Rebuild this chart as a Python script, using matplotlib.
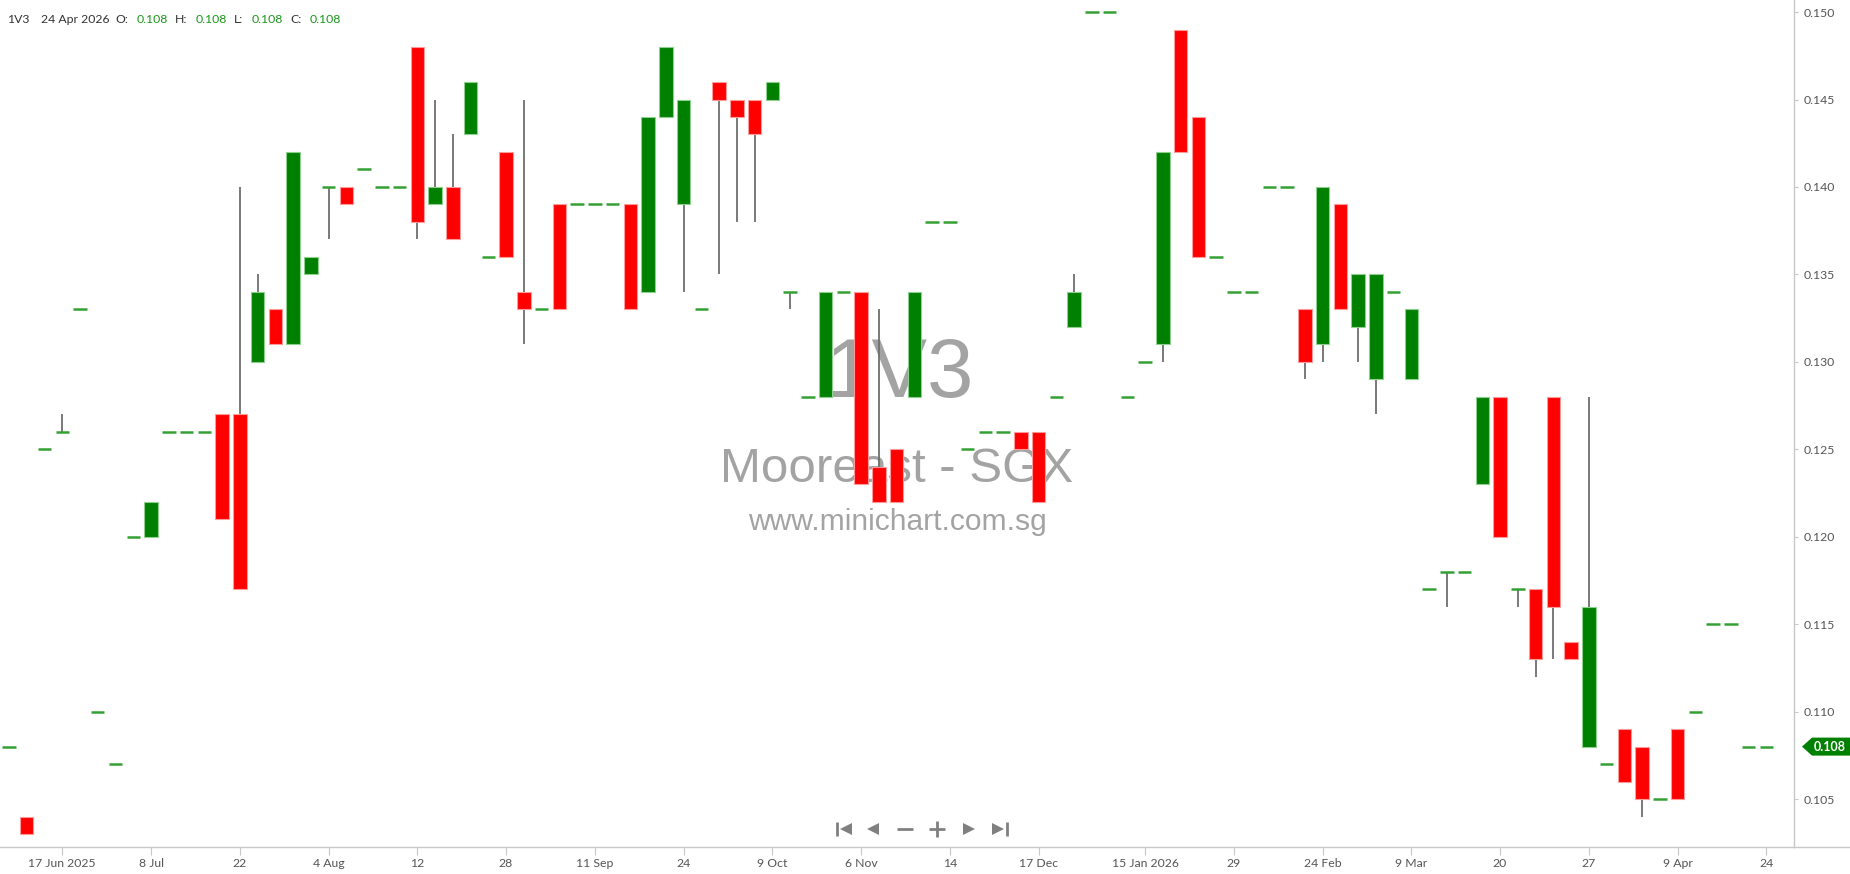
import matplotlib.pyplot as plt
from matplotlib.patches import Polygon
from matplotlib.transforms import IdentityTransform
import numpy as np

# daily OHLC for 1V3 (only days with trades)
opens = [0.108, 0.104, 0.125, 0.126, 0.133, 0.110, 0.107, 0.120, 0.120, 0.126,
         0.126, 0.126, 0.127, 0.127, 0.130, 0.133, 0.131, 0.135, 0.140, 0.140,
         0.141, 0.140, 0.140, 0.148, 0.139, 0.140, 0.143, 0.136, 0.142, 0.134,
         0.133, 0.139, 0.139, 0.139, 0.139, 0.139, 0.134, 0.144, 0.139, 0.133,
         0.146, 0.145, 0.145, 0.145, 0.134, 0.128, 0.128, 0.134, 0.134, 0.124,
         0.125, 0.128, 0.138, 0.138, 0.125, 0.126, 0.126, 0.126, 0.126, 0.128,
         0.132, 0.150, 0.150, 0.128, 0.130, 0.131, 0.149, 0.144, 0.136, 0.134,
         0.134, 0.140, 0.140, 0.133, 0.131, 0.139, 0.132, 0.129, 0.134, 0.129,
         0.117, 0.118, 0.118, 0.123, 0.128, 0.117, 0.117, 0.128, 0.114, 0.108,
         0.107, 0.109, 0.108, 0.105, 0.109, 0.110, 0.115, 0.115, 0.108, 0.108]
highs = [0.108, 0.104, 0.125, 0.127, 0.133, 0.110, 0.107, 0.120, 0.122, 0.126,
         0.126, 0.126, 0.127, 0.140, 0.135, 0.133, 0.142, 0.136, 0.140, 0.140,
         0.141, 0.140, 0.140, 0.148, 0.145, 0.143, 0.146, 0.136, 0.142, 0.145,
         0.133, 0.139, 0.139, 0.139, 0.139, 0.139, 0.144, 0.148, 0.145, 0.133,
         0.146, 0.145, 0.145, 0.146, 0.134, 0.128, 0.134, 0.134, 0.134, 0.133,
         0.125, 0.134, 0.138, 0.138, 0.125, 0.126, 0.126, 0.126, 0.126, 0.128,
         0.135, 0.150, 0.150, 0.128, 0.130, 0.142, 0.149, 0.144, 0.136, 0.134,
         0.134, 0.140, 0.140, 0.133, 0.140, 0.139, 0.135, 0.135, 0.134, 0.133,
         0.117, 0.118, 0.118, 0.128, 0.128, 0.117, 0.117, 0.128, 0.114, 0.128,
         0.107, 0.109, 0.108, 0.105, 0.109, 0.110, 0.115, 0.115, 0.108, 0.108]
lows = [0.108, 0.103, 0.125, 0.126, 0.133, 0.110, 0.107, 0.120, 0.120, 0.126,
        0.126, 0.126, 0.121, 0.117, 0.130, 0.131, 0.131, 0.135, 0.137, 0.139,
        0.141, 0.140, 0.140, 0.137, 0.139, 0.137, 0.143, 0.136, 0.136, 0.131,
        0.133, 0.133, 0.139, 0.139, 0.139, 0.133, 0.134, 0.144, 0.134, 0.133,
        0.135, 0.138, 0.138, 0.145, 0.133, 0.128, 0.128, 0.134, 0.123, 0.122,
        0.122, 0.128, 0.138, 0.138, 0.125, 0.126, 0.126, 0.125, 0.122, 0.128,
        0.132, 0.150, 0.150, 0.128, 0.130, 0.130, 0.142, 0.136, 0.136, 0.134,
        0.134, 0.140, 0.140, 0.129, 0.130, 0.133, 0.130, 0.127, 0.134, 0.129,
        0.117, 0.116, 0.118, 0.123, 0.120, 0.116, 0.112, 0.113, 0.113, 0.108,
        0.107, 0.106, 0.104, 0.105, 0.105, 0.110, 0.115, 0.115, 0.108, 0.108]
closes = [0.108, 0.103, 0.125, 0.126, 0.133, 0.110, 0.107, 0.120, 0.122, 0.126,
          0.126, 0.126, 0.121, 0.117, 0.134, 0.131, 0.142, 0.136, 0.140, 0.139,
          0.141, 0.140, 0.140, 0.138, 0.140, 0.137, 0.146, 0.136, 0.136, 0.133,
          0.133, 0.133, 0.139, 0.139, 0.139, 0.133, 0.144, 0.148, 0.145, 0.133,
          0.145, 0.144, 0.143, 0.146, 0.134, 0.128, 0.134, 0.134, 0.123, 0.122,
          0.122, 0.134, 0.138, 0.138, 0.125, 0.126, 0.126, 0.125, 0.122, 0.128,
          0.134, 0.150, 0.150, 0.128, 0.130, 0.142, 0.142, 0.136, 0.136, 0.134,
          0.134, 0.140, 0.140, 0.130, 0.140, 0.133, 0.135, 0.135, 0.134, 0.133,
          0.117, 0.118, 0.118, 0.128, 0.120, 0.117, 0.113, 0.116, 0.113, 0.116,
          0.107, 0.106, 0.105, 0.105, 0.105, 0.110, 0.115, 0.115, 0.108, 0.108]

tick_pos = [3, 8, 13, 18, 23, 28, 33, 38, 43, 48, 53, 58, 64, 69, 74, 79, 84, 89, 94, 99]
tick_labels = ['17 Jun 2025', '8 Jul', '22', '4 Aug', '12', '28', '11 Sep', '24',
               '9 Oct', '6 Nov', '14', '17 Dec', '15 Jan 2026', '29', '24 Feb',
               '9 Mar', '20', '27', '9 Apr', '24']
y_ticks = [0.105, 0.110, 0.115, 0.120, 0.125, 0.130, 0.135, 0.140, 0.145, 0.150]

GREEN = '#008000'
RED = '#ff0000'
W, H = 1850, 874

plt.rcParams['font.family'] = ['Lato', 'DejaVu Sans']

fig = plt.figure(figsize=(18.5, 8.74), dpi=100)
ax = fig.add_axes([0, 27 / H, 1794 / W, 847 / H])

o = np.array(opens)
h = np.array(highs)
l = np.array(lows)
c = np.array(closes)
x = np.arange(len(o))
bw = 0.76

# wicks
has_wick = (h > np.maximum(o, c)) | (l < np.minimum(o, c))
ax.vlines(x[has_wick], l[has_wick], h[has_wick], color='#6e6e6e', lw=1.3, zorder=2)

# bodies
up = c > o
dn = c < o
ax.bar(x[up], (c - o)[up], bottom=o[up], width=bw, color=GREEN,
       edgecolor='#8fd08f', linewidth=0.8, zorder=3)
ax.bar(x[dn], (o - c)[dn], bottom=c[dn], width=bw, color=RED,
       edgecolor='#ff9a9a', linewidth=0.8, zorder=3)
flat = c == o
ax.hlines(c[flat], x[flat] - bw / 2, x[flat] + bw / 2, color='#34a034', lw=1.8, zorder=3)

ax.set_xlim(-0.507, 100.56)
ax.set_ylim(0.10226, 0.15069)

ax.set_xticks(tick_pos)
ax.set_xticklabels(tick_labels)
ax.yaxis.tick_right()
ax.set_yticks(y_ticks)
ax.set_yticklabels(['%.3f' % v for v in y_ticks])
ax.tick_params(axis='x', length=6, color='#c8c8c8', labelcolor='#555555',
               labelsize=8.8, pad=2)
ax.tick_params(axis='y', length=3, color='#c8c8c8', labelcolor='#555555',
               labelsize=8.8, pad=4)
for s in ['top', 'left']:
    ax.spines[s].set_visible(False)
for s in ['right', 'bottom']:
    ax.spines[s].set_color('#c8c8c8')
    ax.spines[s].set_linewidth(1)

# bottom rule extends past the price axis
fig.add_artist(plt.Line2D([1794 / W, 1.0], [27 / H, 27 / H], color='#c8c8c8', lw=1,
                          transform=fig.transFigure))

# watermark
wm = '#a3a3a3'
ax.text(900 / 1794, 1 - 397 / 847, '1V3', transform=ax.transAxes, ha='center',
        va='baseline', fontsize=60, color=wm, family='Liberation Sans', zorder=0)
ax.text(897 / 1794, 1 - 482 / 847, 'Mooreast - SGX', transform=ax.transAxes, ha='center',
        va='baseline', fontsize=35.5, color=wm, family='Liberation Sans', zorder=0)
ax.text(897 / 1794, 1 - 530 / 847, 'www.minichart.com.sg', transform=ax.transAxes,
        ha='center', va='baseline', fontsize=21.6, color=wm, family='Liberation Sans',
        zorder=0)

# header line
hdr = [(7, '1V3', '#333333'), (41, '24 Apr 2026', '#333333'), (115, 'O:', '#333333'),
       (137, '0.108', '#1a961a'), (175, 'H:', '#333333'), (196, '0.108', '#1a961a'),
       (234, 'L:', '#333333'), (252, '0.108', '#1a961a'), (290, 'C:', '#333333'),
       (310, '0.108', '#1a961a')]
for px, txt, col in hdr:
    fig.text(px / W, 1 - 23 / H, txt, color=col, fontsize=8.8, va='baseline', ha='left')

# last price tag
ty = ax.transData.transform((0, closes[-1]))[1]
tag = Polygon([(1802, ty), (1812, ty + 9), (1850, ty + 9), (1850, ty - 9), (1812, ty - 9)],
              closed=True, fc=GREEN, ec='none', transform=IdentityTransform())
fig.add_artist(tag)
fig.text(1830 / W, ty / H, '%.3f' % closes[-1], ha='center', va='center', color='white',
         fontsize=9, fontweight='bold')

# navigation buttons
nav = '#808080'
def fpt(px, py):
    return px / W, 1 - py / H
for px, mk, ms in [(837, '|', 10), (846, '<', 9), (873, '<', 9), (905, '_', 11),
                   (937, '+', 11), (969, '>', 9), (998, '>', 9), (1007, '|', 10)]:
    fx, fy = fpt(px, 829)
    fig.add_artist(plt.Line2D([fx], [fy], marker=mk, markersize=ms, color=nav,
                              markeredgewidth=2 if mk in '|_+' else 0,
                              transform=fig.transFigure))

fig.savefig('out.png', dpi=100, facecolor='white')
